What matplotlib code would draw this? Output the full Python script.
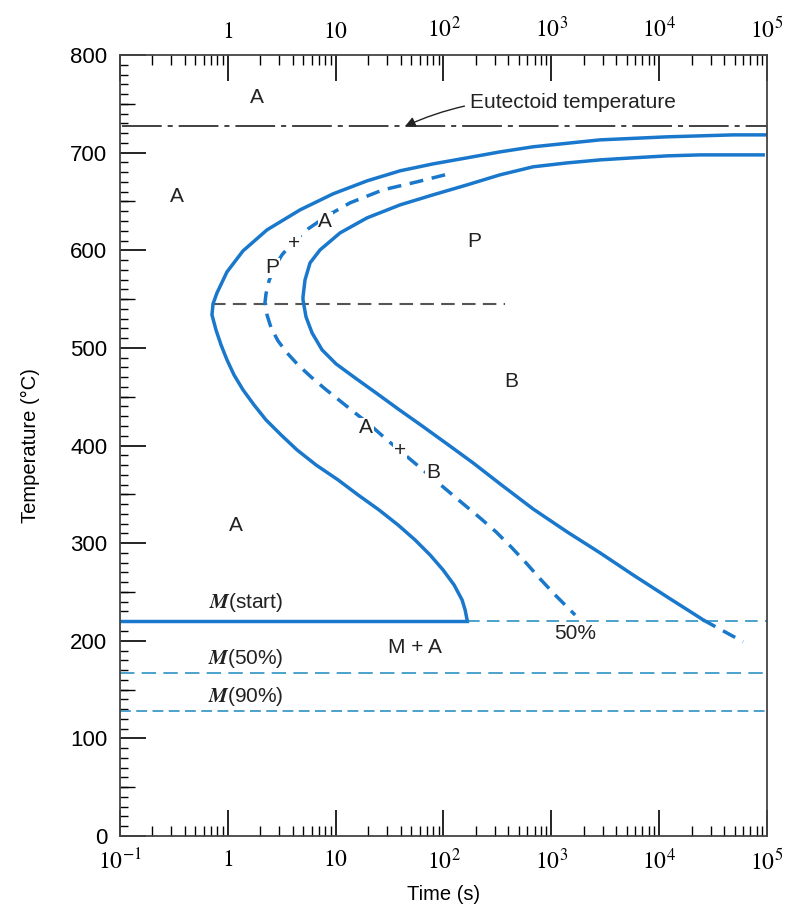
import matplotlib as mpl
mpl.rcParams['font.family'] = ['Liberation Sans', 'DejaVu Sans']
mpl.rcParams['mathtext.fontset'] = 'stix'
import matplotlib.pyplot as plt
from matplotlib.ticker import FixedLocator, LogLocator, NullFormatter, MultipleLocator

# curve data (time in s, temperature in C)
start_t = [1e5, 4.86e4, 1.187e4, 2836, 678, 335, 165.6, 80.1, 39.6, 19.56,
           9.46, 4.68, 2.31, 1.384, 0.983, 0.794, 0.729, 0.713,
           0.777, 0.865, 0.983, 1.142, 1.384, 1.75, 2.262, 3.116, 4.385,
           6.58, 10.53, 16.14, 25.27, 37.92, 54.5, 75.1, 99.2, 125.4,
           148.8, 158.7, 165.6]
start_T = [718.2, 718.2, 716.2, 713.1, 706.0, 700.8, 694.7, 688.5, 681.4, 671.1,
           657.8, 641.4, 620.9, 599.4, 577.9, 556.4, 545.1, 533.8,
           518.4, 503.1, 487.7, 472.3, 457.0, 441.6, 426.2, 410.9, 395.5,
           380.1, 364.8, 349.4, 334.0, 318.6, 303.3, 287.9, 272.5, 257.2,
           241.8, 231.6, 221.3]

finish_t = [9.22e4, 2.401e4, 1.187e4, 5740, 2836, 1402, 678, 335, 165.6, 80.1,
            39.6, 19.56, 10.99, 7.17, 5.79, 5.20, 4.98, 4.98, 5.31, 6.04,
            7.48, 10.09, 15.14, 23.7, 37.9, 63.3, 108.0, 188.2, 335, 678,
            1402, 2836, 5740, 1.187e4, 2.401e4, 2.56e4]
finish_T = [697.7, 697.7, 696.7, 694.7, 692.6, 689.5, 685.5, 677.3, 667.0, 656.8,
            646.5, 633.2, 617.8, 600.4, 587.1, 569.7, 552.3, 549.2, 531.8, 515.4,
            498.0, 483.6, 469.3, 453.9, 437.5, 420.1, 401.6, 382.2, 360.7, 335.0,
            311.5, 290.0, 267.4, 244.9, 223.4, 221.3]
finish_ext_t = [2.56e4, 6.0e4]
finish_ext_T = [221.3, 199]

half_t = [103.5, 56.9, 27.5, 13.6, 8.32, 5.55, 4.03, 3.18, 2.68, 2.41,
          2.26, 2.21, 2.31, 2.52, 2.92, 3.54, 4.48, 5.91, 7.98, 10.99,
          15.14, 20.85, 30.0, 44.0, 66.1, 99.2, 148.8, 218.6, 307.5, 423.8,
          583.9, 804.3, 1085, 1402, 1663]
half_T = [677.3, 670.1, 661.9, 648.6, 635.2, 621.9, 608.6, 595.3, 582.0, 568.6,
          555.3, 546.1, 533.8, 520.5, 507.2, 494.9, 482.6, 470.3, 458.0, 445.7,
          433.4, 421.1, 405.7, 390.4, 374.0, 357.6, 341.2, 325.8, 311.5, 296.1,
          279.7, 262.3, 246.9, 234.6, 226.4]

T_eut = 727
T_nose = 545
T_ms = 220
T_m50 = 167
T_m90 = 128

xticks = [1e-1, 1, 10, 1e2, 1e3, 1e4, 1e5]
xlabels = ['$10^{-1}$', '$1$', '$10$', '$10^2$', '$10^3$', '$10^4$', '$10^5$']

blue = '#1a78cc'
lblue = '#3d9bc9'
gray = '#555555'

fig = plt.figure(figsize=(7.94, 9.11), dpi=100)
ax = fig.add_axes([0.1511, 0.0823, 0.8149, 0.8573])
ax.set_xscale('log')
ax.set_xlim(0.1, 1e5)
ax.set_ylim(0, 800)

# horizontal reference lines
ax.plot([0.105, 1e5], [T_eut, T_eut], color='#333333', lw=1.3, dashes=[22, 3.3, 2.8, 3.3])
ax.plot([0.72, 372], [T_nose, T_nose], color=gray, lw=1.5, dashes=[6.5, 3.5])
ax.plot([0.1, 166], [T_ms, T_ms], color=blue, lw=2.5)
ax.plot([166, 1e5], [T_ms, T_ms], color=lblue, lw=1.3, dashes=[7, 4])
ax.plot([0.1, 1e5], [T_m50, T_m50], color=lblue, lw=1.3, dashes=[8, 4])
ax.plot([0.1, 1e5], [T_m90, T_m90], color=lblue, lw=1.3, dashes=[6, 3])

# transformation curves
ax.plot(start_t, start_T, color=blue, lw=2.5, solid_joinstyle='round')
ax.plot(finish_t, finish_T, color=blue, lw=2.5, solid_joinstyle='round')
ax.plot(finish_ext_t, finish_ext_T, color=blue, lw=2.5, dashes=[4, 2.5])
ax.plot(half_t, half_T, color=blue, lw=2.5, dashes=[4, 2.5])

# labels
fs = 15
def lab(x, y, s, **kw):
    ax.text(x, y, s, fontsize=fs, ha='center', va='center', color='#222222',
            bbox=dict(fc='white', ec='none', pad=0.5), **kw)

lab(1.87, 757, 'A')
lab(0.338, 655, 'A')
lab(8.0, 629, 'A')
lab(4.1, 607, '+')
lab(2.6, 582, 'P')
lab(192, 609, 'P')
lab(424, 466, 'B')
lab(19.1, 418, 'A')
lab(39.5, 395, '+')
lab(80, 372, 'B')
lab(1.19, 318, 'A')
lab(54.6, 193, 'M + A')
lab(1663, 207, '50%')
lab(1.47, 239, r'$\boldsymbol{M}$(start)')
lab(1.47, 182, r'$\boldsymbol{M}$(50%)')
lab(1.47, 143, r'$\boldsymbol{M}$(90%)')

ax.annotate('Eutectoid temperature', xy=(44, T_eut), xytext=(176, 751),
            fontsize=fs, ha='left', va='center', color='#222222',
            arrowprops=dict(arrowstyle='-|>', color='#222222', lw=1,
                            connectionstyle='arc3,rad=0.15', shrinkA=2, shrinkB=0))

# ticks
ax.xaxis.set_major_locator(FixedLocator(xticks))
ax.set_xticklabels(xlabels, fontsize=17)
ax.xaxis.set_minor_locator(LogLocator(base=10, subs=range(2, 10), numticks=20))
ax.xaxis.set_minor_formatter(NullFormatter())
ax.tick_params(axis='x', which='major', direction='in', length=19, width=1.2,
               top=True, bottom=True, pad=9)
ax.tick_params(axis='x', which='minor', direction='in', length=7, width=1.0,
               top=True, bottom=True)

ax.yaxis.set_major_locator(MultipleLocator(100))
ax.yaxis.set_minor_locator(MultipleLocator(10))
ax.tick_params(axis='y', which='major', direction='in', length=19, width=1.2,
               labelsize=16, pad=9, right=False)
ax.tick_params(axis='y', which='minor', direction='in', length=6, width=1.0, right=False)

sec_y = ax.secondary_yaxis('left')
sec_y.set_yticks([50, 150, 250, 350, 450, 550, 650, 750])
sec_y.set_yticklabels([])
sec_y.tick_params(direction='in', length=11, width=1.0)
sec_y.spines['left'].set_visible(False)

sec_x = ax.secondary_xaxis('top')
sec_x.set_xticks(xticks[1:])
sec_x.set_xticklabels(xlabels[1:], fontsize=17)
sec_x.tick_params(length=0, pad=9)
sec_x.xaxis.set_minor_locator(FixedLocator([]))
sec_x.spines['top'].set_visible(False)

for sp in ax.spines.values():
    sp.set_color('#444444')
    sp.set_linewidth(1.3)

ax.set_xlabel('Time (s)', fontsize=14.5, labelpad=8)
ax.set_ylabel('Temperature (\u00b0C)', fontsize=14.5, labelpad=22)

fig.savefig('out.png', dpi=100)
